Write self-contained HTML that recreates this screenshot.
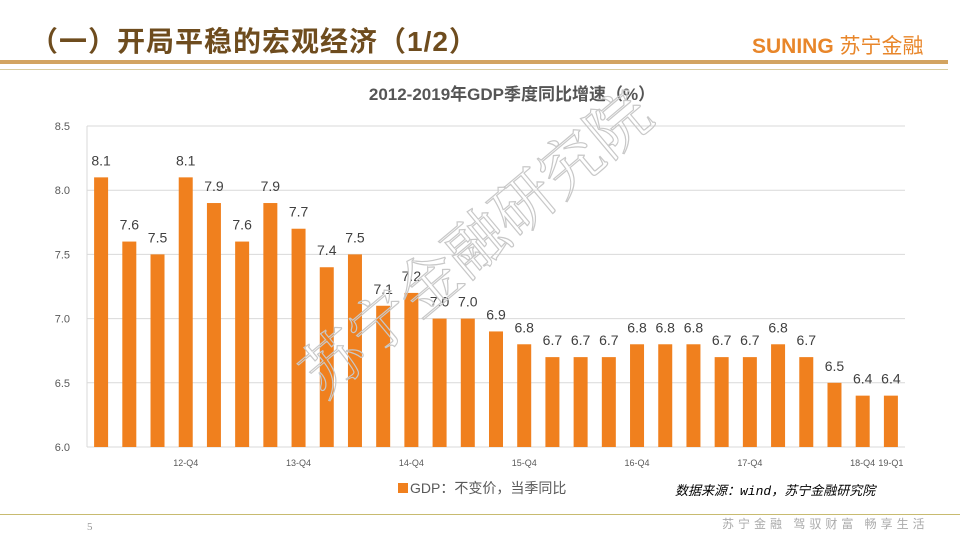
<!DOCTYPE html>
<html><head><meta charset="utf-8"><style>
body{margin:0;width:960px;height:540px;background:#fff;overflow:hidden;position:relative;font-family:"Liberation Sans","Noto Sans CJK SC",sans-serif}
.abs{position:absolute}
</style></head><body>
<div class="abs" style="left:30px;top:20px;font-size:28px;font-weight:bold;color:#6e4c1e;letter-spacing:1px">（一）开局平稳的宏观经济（1/2）</div>
<div class="abs" style="left:752px;top:30px;font-size:21px;color:#e8862a;font-weight:bold">SUNING <span style="font-weight:normal">苏宁金融</span></div>
<div class="abs" style="left:0;top:60px;width:948px;height:4px;background:#d3a461"></div>
<div class="abs" style="left:0;top:69px;width:948px;height:1px;background:#d8cca0"></div>
<div class="abs" style="left:0;top:514px;width:960px;height:1px;background:#c8bb70"></div>
<div class="abs" style="left:87px;top:521px;font-size:11px;color:#999;font-family:'Liberation Serif',serif">5</div>
<div class="abs" style="left:722px;top:515px;font-size:12px;color:#aaa;letter-spacing:4px">苏宁金融 驾驭财富 畅享生活</div>
<svg class="abs" style="left:0;top:0" width="960" height="540" id="chart"></svg>
<script>
const categories=["12-Q1","12-Q2","12-Q3","12-Q4","13-Q1","13-Q2","13-Q3","13-Q4","14-Q1","14-Q2","14-Q3","14-Q4","15-Q1","15-Q2","15-Q3","15-Q4","16-Q1","16-Q2","16-Q3","16-Q4","17-Q1","17-Q2","17-Q3","17-Q4","18-Q1","18-Q2","18-Q3","18-Q4","19-Q1"];
const gdpValues=[8.1,7.6,7.5,8.1,7.9,7.6,7.9,7.7,7.4,7.5,7.1,7.2,7.0,7.0,6.9,6.8,6.7,6.7,6.7,6.8,6.8,6.8,6.7,6.7,6.8,6.7,6.5,6.4,6.4];
const yTicks=[6.0,6.5,7.0,7.5,8.0,8.5];
const xLabelIdx=[3,7,11,15,19,23,27,28];
const svg=document.getElementById('chart');const NS='http://www.w3.org/2000/svg';
const X0=87,X1=905,Y0=447,Y1=126,YMIN=6,YMAX=8.5;
const step=(X1-X0)/categories.length;
const x=i=>X0+step*(i+0.5);
const y=v=>Y0-(v-YMIN)/(YMAX-YMIN)*(Y0-Y1);
function mk(t,a,txt){const e=document.createElementNS(NS,t);for(const k in a)e.setAttribute(k,a[k]);if(txt!==undefined)e.textContent=txt;svg.appendChild(e);return e;}
const tt=mk('text',{x:512,y:100,'text-anchor':'middle','font-size':17,'font-weight':'bold',fill:'#555'},'2012-2019年GDP季度同比增速（%）');


yTicks.forEach(v=>{
 const l=mk('line',{x1:X0,x2:X1,y1:y(v),y2:y(v),stroke:'#d9d9d9','stroke-width':1});
 
 
 const t=mk('text',{x:X0-17,y:y(v)+4,'text-anchor':'end','font-size':11,fill:'#595959'},v.toFixed(1));
 
 
});
const ax=mk('line',{x1:X0,x2:X0,y1:Y1,y2:Y0,stroke:'#d9d9d9'});


gdpValues.forEach((v,i)=>{
 const r=mk('rect',{x:x(i)-7,y:y(v),width:14,height:Y0-y(v),fill:'#f0801e'});
 
 
 const t=mk('text',{x:x(i),y:y(v)-12,'text-anchor':'middle','font-size':14,fill:'#404040'},v.toFixed(1));
 
 
});
xLabelIdx.forEach(i=>{
 const t=mk('text',{x:x(i),y:466,'text-anchor':'middle','font-size':9,fill:'#595959'},categories[i]);
 
 
});
const wm=mk('text',{x:490,y:260,'text-anchor':'middle','font-size':62,fill:'none',stroke:'#c8c8c8','stroke-width':1.2,transform:'rotate(-40 490 260)','font-family':'Noto Serif CJK SC,serif'},'苏宁金融研究院');


</script>
<div class="abs" style="left:398px;top:478px;font-size:14px;color:#595959;display:flex;align-items:center"><span style="display:inline-block;width:10px;height:10px;background:#f0801e;margin-right:2px"></span>GDP：不变价，当季同比</div>
<div class="abs" style="left:675px;top:480px;font-size:13px;font-style:italic;color:#000;font-family:'Liberation Mono','Noto Sans CJK SC',monospace">数据来源：wind，苏宁金融研究院</div>
</body></html>
